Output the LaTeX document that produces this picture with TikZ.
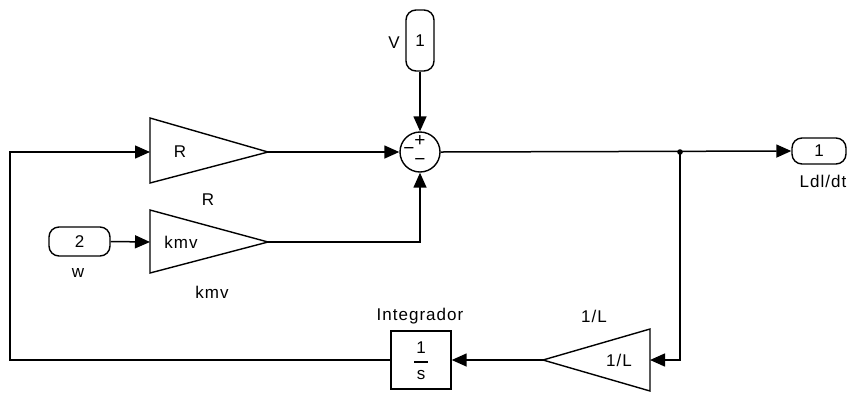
\documentclass[tikz,border=0pt]{standalone}
\usepackage{fontspec}
\setmainfont[LetterSpace=6]{Liberation Sans}
\usetikzlibrary{arrows.meta}
\begin{document}
\begin{tikzpicture}[x=1pt,y=-1pt,
  every node/.style={font=\fontsize{17}{19}\selectfont, inner sep=0pt},
  wire/.style={line width=1.5pt},
  sig/.style={wire, -{Triangle[length=15pt,width=13pt]}},
  port/.style={draw, line width=1.4pt, rounded corners=10pt, minimum width=#1, inner sep=0pt},
  gainshape/.style={draw, line width=1.4pt},
  lbl/.style={font=\fontsize{17}{19}\selectfont},
  sign/.style={font=\fontsize{19}{20}\selectfont}]
\useasboundingbox (0,0) rectangle (848,392);

% ports
\node[port=28pt, minimum height=61pt] (vin) at (420,40.5) {1};
\node[lbl, anchor=east] (vlbl) at (400,43) {V};
\node[port=61pt, minimum height=29pt] (win) at (79.5,241.5) {2};
\node[lbl] (wlbl) at (78,273) {w};
\node[port=54pt, minimum height=26pt] (out) at (819,151) {1};
\node[lbl] (outlbl) at (823,181) {Ldl/dt};

% sum
\node[draw, circle, line width=1.4pt, minimum size=40pt] (sum) at (420,152) {};
\node[sign] (splus) at (420,141) {+};
\node[sign] (sm1) at (409,151) {−};
\node[sign] (sm2) at (420,162) {−};

% gains
\draw[gainshape] (150,118) -- (268,152) -- (150,183) -- cycle;
\coordinate (rin) at (150,152);
\coordinate (rout) at (268,152);
\node[lbl] (rtxt) at (180,152) {R};
\node[lbl] (rlbl) at (208,200) {R};

\draw[gainshape] (150,210) -- (268,242) -- (150,273) -- cycle;
\coordinate (kin) at (150,242);
\coordinate (kout) at (268,242);
\node[lbl] (ktxt) at (181,242) {kmv};
\node[lbl] (klbl) at (212,292) {kmv};

\draw[gainshape] (650,329) -- (543,360) -- (650,391) -- cycle;
\coordinate (lin) at (650,360);
\coordinate (lout) at (543,360);
\node[lbl] (ltxt) at (619,360) {1/L};
\node[lbl] (llbl) at (594,316) {1/L};

% integrator
\node[draw, line width=1.4pt, minimum width=60pt, minimum height=58pt] (int) at (421,360) {};
\node[lbl] (i1) at (421,348) {1};
\draw[line width=1.2pt] (414,362) -- (428,362);
\node[lbl] (is) at (421,375) {s};
\node[lbl] (ilbl) at (420,316) {Integrador};

% connectors
\coordinate (br) at (680,152);
\coordinate (c1) at (680,360);
\coordinate (c2) at (10,360);
\coordinate (c3) at (10,152);
\coordinate (c4) at (420,242);

\draw[sig] (vin.south) -- (sum.north);
\draw[sig] (rout) -- (sum.west);
\draw[sig] (kout) -- (c4) -- (sum.south);
\draw[sig] (win.east) -- (kin);
\draw[sig] (sum.east) -- (out.west);
\draw[sig] (br) -- (c1) -- (lin);
\draw[sig] (lout) -- (int.east);
\draw[sig] (int.west) -- (c2) -- (c3) -- (rin);
\fill (br) circle (2.8pt);
\end{tikzpicture}
\end{document}
